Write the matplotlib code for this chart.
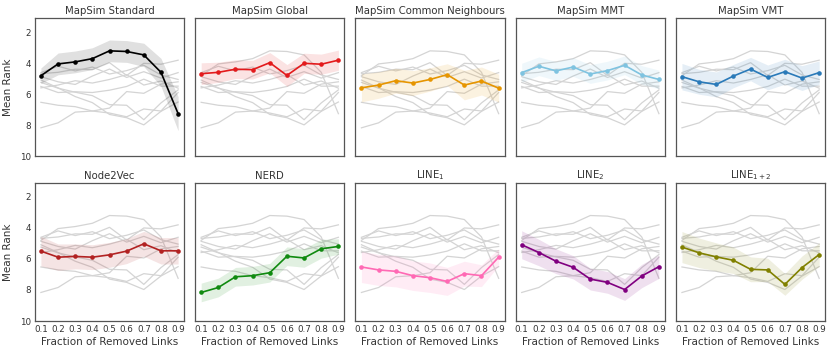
import numpy as np
import matplotlib
matplotlib.use("Agg")
import matplotlib.pyplot as plt

fractions = [0.1, 0.2, 0.3, 0.4, 0.5, 0.6, 0.7, 0.8, 0.9]

methods = ["MapSim Standard", "MapSim Global", "MapSim Common Neighbours",
           "MapSim MMT", "MapSim VMT", "Node2Vec", "NERD",
           "LINE$_1$", "LINE$_2$", "LINE$_{1+2}$"]
colors = ["#000000", "#e31a1c", "#e69500", "#7ec3e0", "#2a7ab9",
          "#b22222", "#108a10", "#ff69b4", "#800080", "#808000"]

mapsim_standard = [4.81, 4.05, 3.92, 3.71, 3.21, 3.25, 3.47, 4.59, 7.25]
mapsim_global = [4.68, 4.59, 4.39, 4.42, 3.97, 4.79, 4.01, 4.07, 3.81]
mapsim_cn = [5.59, 5.41, 5.13, 5.28, 5.05, 4.74, 5.41, 5.15, 5.61]
mapsim_mmt = [4.61, 4.20, 4.50, 4.25, 4.70, 4.48, 4.14, 4.76, 5.05]
mapsim_vmt = [4.87, 5.20, 5.37, 4.83, 4.38, 4.92, 4.55, 4.96, 4.61]
node2vec = [5.50, 5.89, 5.84, 5.89, 5.74, 5.50, 5.03, 5.48, 5.48]
nerd = [8.16, 7.84, 7.15, 7.08, 6.89, 5.83, 5.94, 5.35, 5.20]
line1 = [6.52, 6.71, 6.80, 7.08, 7.21, 7.45, 6.95, 7.08, 5.89]
line2 = [5.09, 5.59, 6.15, 6.54, 7.30, 7.51, 7.97, 7.10, 6.50]
line12 = [5.24, 5.61, 5.87, 6.09, 6.67, 6.71, 7.64, 6.56, 5.72]

# spread of the shaded band around each mean
sd_standard = [0.5, 0.7, 0.7, 0.7, 0.7, 0.7, 0.75, 0.9, 1.1]
sd_global = [0.7, 0.65, 0.6, 0.6, 0.65, 0.7, 0.65, 0.65, 0.65]
sd_cn = [0.9, 0.85, 0.8, 0.8, 0.75, 0.7, 0.95, 0.9, 0.9]
sd_mmt = [0.6, 0.6, 0.6, 0.6, 0.6, 0.6, 0.6, 0.6, 0.6]
sd_vmt = [0.85, 0.8, 0.8, 0.75, 0.75, 0.8, 0.8, 0.8, 0.75]
sd_node2vec = [0.95, 0.85, 0.8, 0.8, 0.8, 0.8, 0.8, 0.85, 0.85]
sd_nerd = [0.6, 0.6, 0.6, 0.6, 0.6, 0.6, 0.6, 0.6, 0.5]
sd_line1 = [1.0, 1.0, 1.0, 0.95, 0.95, 0.9, 0.8, 0.7, 0.55]
sd_line2 = [0.9, 0.85, 0.8, 0.75, 0.7, 0.7, 0.7, 0.75, 0.75]
sd_line12 = [1.0, 0.95, 0.9, 0.85, 0.8, 0.75, 0.7, 0.75, 0.75]

means = [mapsim_standard, mapsim_global, mapsim_cn, mapsim_mmt, mapsim_vmt,
         node2vec, nerd, line1, line2, line12]
spreads = [sd_standard, sd_global, sd_cn, sd_mmt, sd_vmt,
           sd_node2vec, sd_nerd, sd_line1, sd_line2, sd_line12]

plt.rcParams["font.family"] = ["DejaVu Sans"]

fig, axes = plt.subplots(2, 5, figsize=(8.31, 3.54), dpi=100, sharex=True, sharey=True)
fig.subplots_adjust(left=0.042, right=0.993, top=0.949, bottom=0.093,
                    wspace=0.074, hspace=0.19)

x = np.array(fractions)
for i, ax in enumerate(axes.flat):
    for j in range(len(methods)):
        if j != i:
            ax.plot(x, means[j], color="#d4d4d4", lw=0.9, zorder=1)
    m = np.array(means[i])
    s = np.array(spreads[i])
    ax.fill_between(x, m - s, m + s, color=colors[i], alpha=0.12, lw=0, zorder=2)
    ax.plot(x, m, color=colors[i], lw=1.2, marker="o", markersize=3.3,
            markeredgewidth=0, zorder=3)
    ax.set_title(methods[i], fontsize=7.3, color="#333333", pad=3)
    ax.set_xlim(0.065, 0.935)
    ax.set_ylim(10, 1.1)
    ax.set_yticks([2, 4, 6, 8, 10])
    ax.set_xticks(fractions)
    ax.set_xticklabels([f"{f:.1f}" for f in fractions])
    ax.tick_params(labelsize=6.3, colors="#333333", length=0, pad=3)
    for sp in ax.spines.values():
        sp.set_color("#555555")
        sp.set_linewidth(0.9)
    if i % 5 == 0:
        ax.set_ylabel("Mean Rank", fontsize=7.5, color="#333333", labelpad=5)
    if i >= 5:
        ax.set_xlabel("Fraction of Removed Links", fontsize=7.5, color="#333333", labelpad=2)

fig.savefig("out.png", dpi=100)
